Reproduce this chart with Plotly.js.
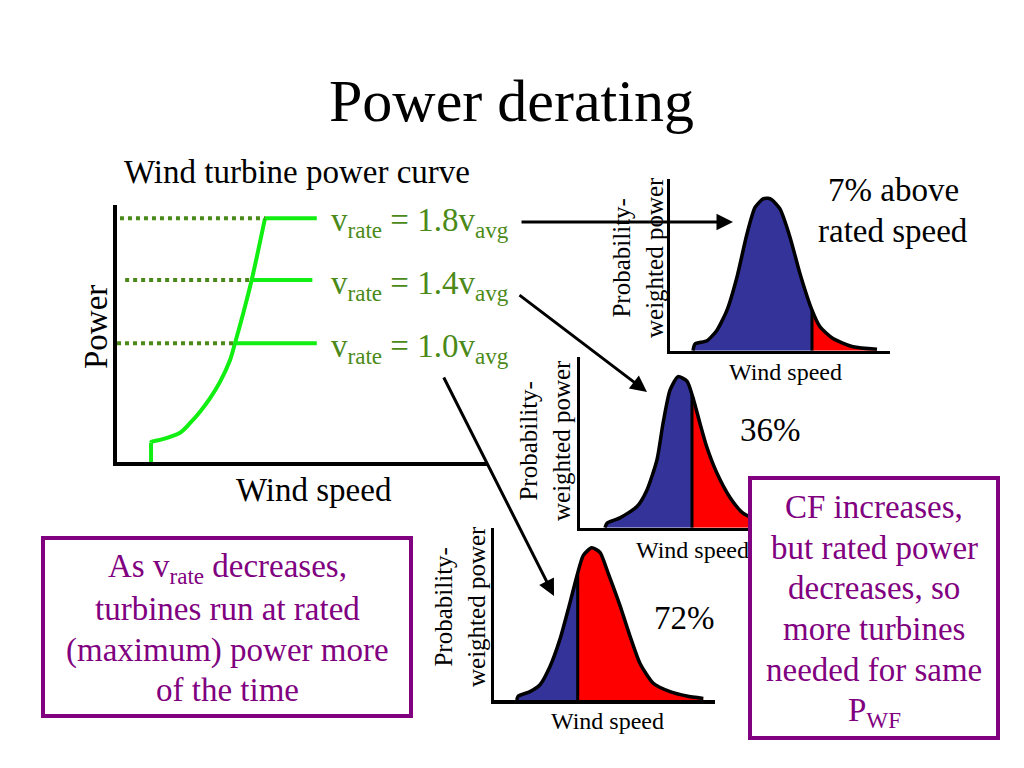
<!DOCTYPE html>
<html><head><meta charset="utf-8">
<script src="https://cdn.plot.ly/plotly-3.0.1.min.js"></script>
<style>html,body{margin:0;padding:0;background:#fff}</style>
</head><body><div id="chart" style="width:1024px;height:768px"></div>
<script>
// ---- Power curve (wind speed m/s, normalized power) ----
const curveSpeed = [2.30, 2.30, 2.34, 2.91, 4.26, 4.93, 5.61, 6.28, 6.96, 7.64, 7.97, 8.53, 9.10, 10.0];
const curvePower = [0, 0.075, 0.079, 0.086, 0.114, 0.151, 0.196, 0.248, 0.312, 0.397, 0.462, 0.579, 0.708, 0.948];
const ratedLabels = ['1.8', '1.4', '1.0'];
const ratedPower = [0.948, 0.708, 0.462];
const ratedSpeed = [10.0, 9.10, 7.97];
const ratedLineEnd = [13.5, 13.2, 13.5];
const dottedStart = [0.2, 0.55, 0.0];

// ---- Probability-weighted power distributions ----
const distSpeedA = [2.3, 2.5, 3.7, 4.7, 5.7, 6.7, 7.7, 8.5, 9.3, 9.8, 10.2, 11.0, 12.0, 13.0, 14.2, 15.0, 16.3, 18.3, 20.7];
const distPowerA = [0, 0.044, 0.065, 0.135, 0.266, 0.484, 0.767, 0.94, 0.996, 1.0, 0.99, 0.93, 0.745, 0.505, 0.266, 0.157, 0.08, 0.026, 0.009];
const cutA = 14.2;
const distSpeedB = [2.5, 2.7, 4.0, 5.7, 6.7, 7.7, 8.3, 9.0, 9.8, 10.7, 11.3, 12.0, 12.7, 13.7, 15.0, 16.3, 18.0, 20.0];
const distPowerB = [0, 0.03, 0.065, 0.14, 0.25, 0.45, 0.69, 0.91, 1.0, 0.97, 0.86, 0.69, 0.53, 0.36, 0.2, 0.096, 0.04, 0.01];
const cutB = 11.2;
const distSpeedC = [2.27, 2.43, 3.6, 4.6, 5.6, 6.6, 7.6, 8.27, 8.93, 9.77, 10.6, 11.43, 12.6, 13.6, 14.6, 15.93, 17.6, 19.27, 20.93];
const distPowerC = [0, 0.026, 0.055, 0.1, 0.22, 0.40, 0.64, 0.81, 0.95, 1.0, 0.97, 0.83, 0.62, 0.42, 0.24, 0.11, 0.055, 0.026, 0.01];
const cutC = 8.37;

const shareLabels = ['7% above', 'rated speed', '36%', '72%'];
const leftBoxLines = ['As v<sub>rate</sub> decreases,', 'turbines run at rated', '(maximum) power more', 'of the time'];
const rightBoxLines = ['CF increases,', 'but rated power', 'decreases, so', 'more turbines', 'needed for same', 'P<sub>WF</sub>'];

const FONT = 'Liberation Serif, Times New Roman, serif';
const GREEN = '#11ee11';
const OLIVE = '#4b8a18';
const PURPLE = '#800080';
const BLUE = '#333399';
const RED = '#ff0000';

const W = 1024, H = 768;
const px = v => v / W;
const py = v => 1 - v / H;

const traces = [];
// Power curve: vertical cut-in step, then smooth rise
traces.push({x: curveSpeed.slice(0, 2), y: curvePower.slice(0, 2), mode: 'lines', line: {color: GREEN, width: 4}, xaxis: 'x', yaxis: 'y', hoverinfo: 'skip'});
traces.push({x: curveSpeed.slice(1), y: curvePower.slice(1), mode: 'lines', line: {color: GREEN, width: 4, shape: 'spline', smoothing: 0.8}, xaxis: 'x', yaxis: 'y', hoverinfo: 'skip'});
for (let i = 0; i < ratedPower.length; i++) {
  traces.push({x: [dottedStart[i], ratedSpeed[i]], y: [ratedPower[i], ratedPower[i]], mode: 'lines',
    line: {color: OLIVE, width: 4, dash: '4px,4px'}, xaxis: 'x', yaxis: 'y', hoverinfo: 'skip'});
  traces.push({x: [ratedSpeed[i], ratedLineEnd[i]], y: [ratedPower[i], ratedPower[i]], mode: 'lines',
    line: {color: GREEN, width: 4}, xaxis: 'x', yaxis: 'y', hoverinfo: 'skip'});
}

function interp(xs, ys, c) {
  for (let i = 0; i < xs.length - 1; i++) {
    if (c >= xs[i] && c <= xs[i + 1]) {
      const t = (c - xs[i]) / (xs[i + 1] - xs[i]);
      return ys[i] + t * (ys[i + 1] - ys[i]);
    }
  }
  return 0;
}
function addDist(xs, ys, cut, ax) {
  const yc = interp(xs, ys, cut);
  const bx = [], by = [], rx = [cut], ry = [yc];
  for (let i = 0; i < xs.length; i++) {
    if (xs[i] < cut) { bx.push(xs[i]); by.push(ys[i]); } else { rx.push(xs[i]); ry.push(ys[i]); }
  }
  bx.push(cut); by.push(yc);
  traces.push({x: bx, y: by, mode: 'lines', fill: 'tozeroy', fillcolor: BLUE, line: {width: 0, color: BLUE, shape: 'spline', smoothing: 0.6}, xaxis: 'x' + ax, yaxis: 'y' + ax, hoverinfo: 'skip'});
  traces.push({x: rx, y: ry, mode: 'lines', fill: 'tozeroy', fillcolor: RED, line: {width: 0, color: RED, shape: 'spline', smoothing: 0.6}, xaxis: 'x' + ax, yaxis: 'y' + ax, hoverinfo: 'skip'});
  traces.push({x: [cut, cut], y: [0, yc], mode: 'lines', line: {color: '#000', width: 3}, xaxis: 'x' + ax, yaxis: 'y' + ax, hoverinfo: 'skip'});
  traces.push({x: xs, y: ys, mode: 'lines', line: {color: '#000', width: 3.5, shape: 'spline', smoothing: 0.6}, xaxis: 'x' + ax, yaxis: 'y' + ax, hoverinfo: 'skip'});
}
addDist(distSpeedA, distPowerA, cutA, '2');
addDist(distSpeedB, distPowerB, cutB, '3');
addDist(distSpeedC, distPowerC, cutC, '4');

function axis(dom, rng, anchor, lw) {
  return {domain: dom, range: rng, anchor: anchor, showline: true, linecolor: '#000', linewidth: lw,
    showgrid: false, zeroline: false, showticklabels: false, ticks: '', fixedrange: true};
}

const layout = {
  width: W, height: H, margin: {l: 0, r: 0, t: 0, b: 0},
  paper_bgcolor: '#fff', plot_bgcolor: 'rgba(0,0,0,0)', showlegend: false,
  font: {family: FONT, color: '#000'},
  xaxis: axis([px(117), px(487)], [0, 25], 'y', 4),
  yaxis: axis([py(462), py(205)], [0, 1], 'x', 4),
  xaxis2: axis([px(670), px(890)], [0, 22], 'y2', 3.5),
  yaxis2: axis([py(350.7), py(178.5)], [0, 1.13], 'x2', 3.5),
  xaxis3: axis([px(580), px(800)], [0, 22], 'y3', 3.5),
  yaxis3: axis([py(527.7), py(357)], [0, 1.13], 'x3', 3.5),
  xaxis4: axis([px(494), px(715)], [0, 22.1], 'y4', 3.5),
  yaxis4: axis([py(700), py(528)], [0, 1.13], 'x4', 3.5),
  annotations: [], shapes: []
};
const A = layout.annotations;
function txt(text, x, y, size, color, opts) {
  A.push(Object.assign({text: text, x: px(x), y: py(y), xref: 'paper', yref: 'paper', showarrow: false,
    xanchor: 'center', yanchor: 'middle', font: {family: FONT, size: size, color: color || '#000'}}, opts || {}));
}
txt('Power derating', 511, 101, 60);
txt('Wind turbine power curve', 297, 172, 33);
txt('Power', 96, 327, 33, '#000', {textangle: -90});
txt('Wind speed', 314, 490, 33);
for (let i = 0; i < ratedLabels.length; i++) {
  const yy = [223, 285, 348][i];
  txt('v<sub>rate</sub> = ' + ratedLabels[i] + 'v<sub>avg</sub>', 329, yy, 33, OLIVE, {xanchor: 'left'});
}
// small chart labels
txt('Probability-<br>weighted power', 638, 258, 25, '#000', {textangle: -90});
txt('Probability-<br>weighted power', 545, 441, 25, '#000', {textangle: -90});
txt('Probability-<br>weighted power', 460, 607, 25, '#000', {textangle: -90});
txt('Wind speed', 785, 372, 24);
txt('Wind speed', 692, 550, 24);
txt('Wind speed', 607, 721, 24);
txt(shareLabels[0], 893, 190, 33);
txt(shareLabels[1], 893, 231, 33);
txt(shareLabels[2], 770, 430, 33);
txt(shareLabels[3], 684, 618, 33);
// arrows
function arrow(tx, ty, sx, sy) {
  A.push({x: px(tx), y: py(ty), xref: 'paper', yref: 'paper', text: '', showarrow: true,
    ax: sx - tx, ay: sy - ty, arrowhead: 2, arrowsize: 1.1, arrowwidth: 3, arrowcolor: '#000', standoff: 0});
}
arrow(733, 222, 520, 222);
arrow(647, 392, 518, 294);
arrow(554, 596, 443, 376);
// left box
layout.shapes.push({type: 'rect', xref: 'paper', yref: 'paper', x0: px(43), x1: px(411), y0: py(716), y1: py(538),
  line: {color: PURPLE, width: 4}, fillcolor: 'rgba(0,0,0,0)'});
[568, 609, 650, 690].forEach((yy, i) => txt(leftBoxLines[i], 227, yy, 33, PURPLE));
// right box (covers part of the label behind it)
A.push({text: ' ', x: px(874), y: py(608), xref: 'paper', yref: 'paper', showarrow: false, xanchor: 'center', yanchor: 'middle',
  width: 244, height: 256, bgcolor: '#fff', bordercolor: PURPLE, borderwidth: 4, borderpad: 0});
[507, 548, 588, 629, 670, 712].forEach((yy, i) => txt(rightBoxLines[i], 874, yy, 33, PURPLE));

Plotly.newPlot('chart', traces, layout, {displayModeBar: false, staticPlot: true});
</script></body></html>
